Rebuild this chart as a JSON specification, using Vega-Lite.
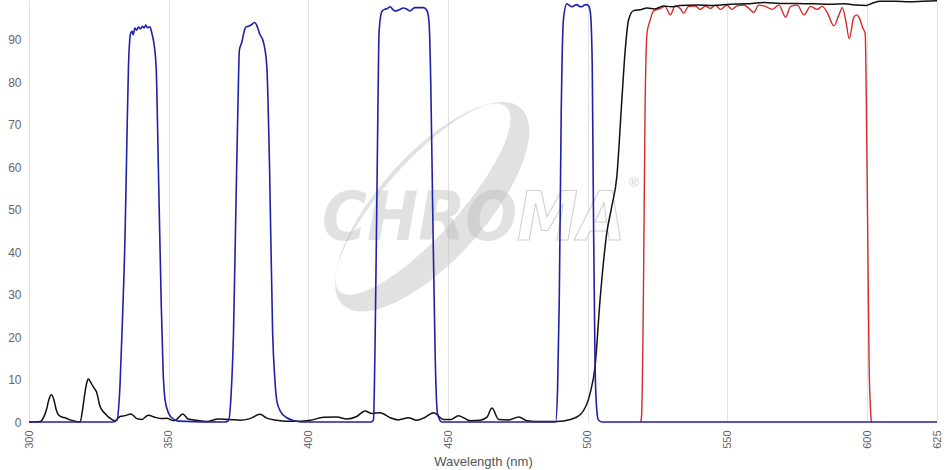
{
  "$schema": "https://vega.github.io/schema/vega-lite/v6.json",
  "width": 908,
  "height": 422,
  "autosize": {"type": "none"},
  "padding": {"left": 29, "top": 0, "right": 14, "bottom": 48},
  "background": "white",
  "config": {"view": {"stroke": null}},
  "datasets": {
    "blue": [
      {"wl":300,"t":0},{"wl":330,"t":0},{"wl":331.5,"t":0.5},{"wl":332.6,"t":9},{"wl":333.5,"t":25},{"wl":334.4,"t":44.5},{"wl":335,"t":65},{"wl":335.6,"t":83.7},{"wl":336.4,"t":91.6},{"wl":336.9,"t":92},{"wl":337.3,"t":91.2},{"wl":337.9,"t":92.8},{"wl":338.5,"t":92.3},{"wl":339.2,"t":93},{"wl":339.9,"t":92.6},{"wl":340.6,"t":93.2},{"wl":341.2,"t":92.8},{"wl":341.8,"t":93.5},{"wl":342.4,"t":92.9},{"wl":343.3,"t":93.1},{"wl":344,"t":91.5},{"wl":344.5,"t":90},{"wl":345.5,"t":83.7},{"wl":346.3,"t":60},{"wl":347.3,"t":28.8},{"wl":348,"t":12},{"wl":348.7,"t":5.2},{"wl":350,"t":2},{"wl":351.1,"t":1},{"wl":353.5,"t":0.2},
      {"wl":370,"t":0},{"wl":371.4,"t":0.3},{"wl":372.3,"t":6},{"wl":373.2,"t":21},{"wl":374.1,"t":52},{"wl":374.8,"t":75},{"wl":375.3,"t":87.6},{"wl":376.2,"t":89.5},{"wl":377,"t":92},{"wl":377.6,"t":93},{"wl":378.5,"t":93.2},{"wl":379.5,"t":93.5},{"wl":380.7,"t":94.1},{"wl":381.5,"t":93.5},{"wl":382.5,"t":91.5},{"wl":383.9,"t":89.5},{"wl":385.1,"t":84},{"wl":386.1,"t":60},{"wl":387.2,"t":21},{"wl":388,"t":10},{"wl":388.7,"t":5},{"wl":390,"t":2.5},{"wl":392.3,"t":1},{"wl":395,"t":0.3},{"wl":398,"t":0},
      {"wl":422.5,"t":0},{"wl":423.3,"t":0.5},{"wl":423.9,"t":20},{"wl":424.5,"t":52},{"wl":425,"t":80},{"wl":425.3,"t":92},{"wl":426.3,"t":96.7},{"wl":427.3,"t":97.2},{"wl":428.3,"t":97.4},{"wl":429.3,"t":97.8},{"wl":430.2,"t":97.2},{"wl":431,"t":96.8},{"wl":432.5,"t":97.1},{"wl":434,"t":97.5},{"wl":435.3,"t":97.2},{"wl":436.4,"t":96.8},{"wl":437.3,"t":97.3},{"wl":438.2,"t":97.6},{"wl":439.5,"t":97.6},{"wl":441.2,"t":97.6},{"wl":442.4,"t":97},{"wl":443.2,"t":94},{"wl":443.8,"t":80},{"wl":444.5,"t":50},{"wl":445.4,"t":15},{"wl":446.2,"t":2},{"wl":447.8,"t":0},
      {"wl":488.5,"t":0},{"wl":489.2,"t":8},{"wl":489.8,"t":28.8},{"wl":490.5,"t":73},{"wl":491.3,"t":94.8},{"wl":492.5,"t":98.5},{"wl":493.3,"t":98.2},{"wl":494.3,"t":97.8},{"wl":495.2,"t":98.1},{"wl":496.1,"t":98.3},{"wl":497,"t":97.9},{"wl":497.9,"t":97.8},{"wl":498.8,"t":98.2},{"wl":499.7,"t":98.3},{"wl":500.5,"t":97.8},{"wl":501,"t":96},{"wl":501.6,"t":84},{"wl":502,"t":52},{"wl":502.6,"t":13.7},{"wl":503.2,"t":3},{"wl":503.8,"t":0.5},{"wl":505,"t":0},{"wl":625,"t":0}
    ],
    "black": [
      {"wl":300,"t":0},{"wl":304,"t":0.1},{"wl":305.5,"t":1.5},{"wl":306.3,"t":3},{"wl":307.2,"t":5.5},{"wl":308.1,"t":6.4},{"wl":309,"t":5},{"wl":309.7,"t":3},{"wl":310.5,"t":1.7},{"wl":312,"t":1.1},{"wl":312.9,"t":1.0},{"wl":314.7,"t":0.5},{"wl":316.5,"t":0.2},{"wl":318.3,"t":0},{"wl":319.2,"t":3},{"wl":320,"t":6.8},{"wl":320.6,"t":9},{"wl":321.2,"t":10.1},{"wl":322.4,"t":9},{"wl":323.3,"t":8},{"wl":324.2,"t":7},{"wl":325.4,"t":3.7},{"wl":327.2,"t":2},{"wl":329.6,"t":0.6},{"wl":330.8,"t":0.3},{"wl":332.6,"t":1.3},{"wl":334.4,"t":1.5},{"wl":336.5,"t":1.9},{"wl":338.6,"t":0.8},{"wl":340.4,"t":0.6},{"wl":342.7,"t":1.6},{"wl":345.1,"t":1.1},{"wl":347.5,"t":0.8},{"wl":349.3,"t":0.9},{"wl":351.7,"t":0.3},{"wl":352.9,"t":0.6},{"wl":355,"t":1.9},{"wl":357,"t":0.7},{"wl":360,"t":0.4},{"wl":363.6,"t":0.1},{"wl":367.8,"t":0.7},{"wl":372,"t":0.6},{"wl":375.5,"t":0.4},{"wl":379.1,"t":0.8},{"wl":382.7,"t":1.8},{"wl":385.1,"t":0.9},{"wl":388.7,"t":0.4},{"wl":392.3,"t":0.2},{"wl":397,"t":0.2},{"wl":400.6,"t":0.4},{"wl":405.4,"t":1.1},{"wl":410.2,"t":1.2},{"wl":413.7,"t":0.7},{"wl":417.3,"t":1.3},{"wl":420.3,"t":2.6},{"wl":422.7,"t":2.0},{"wl":425.7,"t":2.2},{"wl":429.3,"t":1.0},{"wl":432.2,"t":0.5},{"wl":435.8,"t":1.0},{"wl":438.8,"t":0.4},{"wl":441.5,"t":1.0},{"wl":444.8,"t":2.2},{"wl":448.4,"t":0.6},{"wl":451,"t":0.6},{"wl":453.7,"t":1.5},{"wl":457.9,"t":0.3},{"wl":461.5,"t":0.4},{"wl":464,"t":1.2},{"wl":465.7,"t":3.3},{"wl":468.1,"t":0.6},{"wl":471.7,"t":0.5},{"wl":475.3,"t":1.2},{"wl":478.3,"t":0.3},{"wl":483,"t":0.1},{"wl":489,"t":0.1},{"wl":493.8,"t":0.6},{"wl":497.3,"t":1.7},{"wl":500.9,"t":6.9},{"wl":502.6,"t":13},{"wl":504.4,"t":28.8},{"wl":506.8,"t":44.5},{"wl":508.6,"t":50.8},{"wl":510.4,"t":57.8},{"wl":512.2,"t":75.9},{"wl":513.4,"t":87.6},{"wl":514.6,"t":94.7},{"wl":516.4,"t":96.9},{"wl":518.8,"t":97.1},{"wl":521.2,"t":97.5},{"wl":524,"t":97.3},{"wl":527.1,"t":98},{"wl":530,"t":97.8},{"wl":533,"t":98.1},{"wl":539.1,"t":98.2},{"wl":545,"t":98.1},{"wl":551,"t":98.4},{"wl":557,"t":98.5},{"wl":563,"t":98.8},{"wl":569,"t":98.6},{"wl":575,"t":98.6},{"wl":581,"t":98.5},{"wl":586.9,"t":98.4},{"wl":592,"t":98.5},{"wl":596,"t":98.2},{"wl":599.6,"t":98.1},{"wl":602,"t":98.7},{"wl":604.8,"t":99.1},{"wl":610,"t":99.1},{"wl":615,"t":99},{"wl":620,"t":99.1},{"wl":625,"t":99.2}
    ],
    "red": [
      {"wl":519,"t":0},{"wl":519.3,"t":2},{"wl":519.9,"t":28.8},{"wl":520.5,"t":73},{"wl":521.2,"t":91.5},{"wl":522.3,"t":94.6},{"wl":523.5,"t":96.8},{"wl":525.9,"t":97.4},{"wl":527.7,"t":97.9},{"wl":529.5,"t":95.9},{"wl":531.3,"t":98},{"wl":533.1,"t":97.4},{"wl":534.3,"t":96.3},{"wl":536.1,"t":97.9},{"wl":538.5,"t":98},{"wl":540.3,"t":97.2},{"wl":542.1,"t":98},{"wl":543.9,"t":97.4},{"wl":545.7,"t":98.2},{"wl":547.5,"t":97.2},{"wl":549.8,"t":98.2},{"wl":551.6,"t":97.2},{"wl":553.4,"t":98},{"wl":555.8,"t":98.2},{"wl":557.6,"t":97.5},{"wl":559.4,"t":96.5},{"wl":561.2,"t":98.2},{"wl":563.6,"t":97.9},{"wl":566,"t":97.2},{"wl":568.4,"t":98.2},{"wl":570.8,"t":95.4},{"wl":572.6,"t":97.9},{"wl":575,"t":98.2},{"wl":577.4,"t":95.9},{"wl":579.7,"t":97.9},{"wl":582.1,"t":97.2},{"wl":583.9,"t":97.9},{"wl":585.7,"t":96.5},{"wl":588.1,"t":93.3},{"wl":589.9,"t":95.9},{"wl":591.1,"t":97.6},{"wl":592.3,"t":94.7},{"wl":593.6,"t":90.3},{"wl":595.2,"t":95.3},{"wl":596.2,"t":95.9},{"wl":597.3,"t":95},{"wl":598.5,"t":92.7},{"wl":599.3,"t":91.5},{"wl":599.7,"t":75.9},{"wl":600.2,"t":44.5},{"wl":600.7,"t":13.7},{"wl":601.2,"t":3},{"wl":601.5,"t":0}
    ],
    "mark": [{"name": "Chroma"}]
  },
  "layer": [
    {
      "data": {"name": "mark"},
      "mark": {"type": "point", "filled": true, "color": "#bdbdbd", "opacity": 0.45, "size": 63500,
        "shape": "M0.675,-0.804 A1.05,0.42,-48,1,1,-0.675,0.804 A1.05,0.42,-48,1,1,0.675,-0.804 Z M0.557,-0.812 A0.98,0.29,-48,1,0,-0.703,0.690 A0.98,0.29,-48,1,0,0.557,-0.812 Z"},
      "encoding": {
        "x": {"datum": 444.3, "type": "quantitative", "scale": {"domain": [300, 625], "nice": false, "zero": false},
          "axis": {"values": [300,350,400,450,500,550,600,625], "labelAngle": -90, "labelAlign": "right", "labelBaseline": "middle", "labelPadding": 8, "labelColor": "#666", "labelFontSize": 11, "labelFont": "Liberation Sans", "labelOverlap": false, "labelFlush": false, "domain": false, "ticks": false, "grid": true, "gridColor": "#e2e2e2", "title": "Wavelength (nm)", "titleColor": "#555", "titleFontSize": 13, "titleFontWeight": "normal", "titleFont": "Liberation Sans", "titlePadding": 7}},
        "y": {"datum": 50.7, "type": "quantitative", "scale": {"domain": [0, 99.4], "nice": false},
          "axis": {"values": [0,10,20,30,40,50,60,70,80,90], "domain": false, "ticks": false, "labelPadding": 8, "labelColor": "#666", "labelFontSize": 12, "labelFont": "Liberation Sans", "gridColor": "#e2e2e2", "title": null}}
      }
    },
    {
      "data": {"name": "mark"},
      "mark": {"type": "text", "text": "CHRO", "font": "DejaVu Sans Condensed, Liberation Sans, sans-serif", "fontStyle": "italic", "fontWeight": "bold", "fontSize": 68, "align": "left", "baseline": "alphabetic", "fill": "#bdbdbd", "fillOpacity": 0.45},
      "encoding": {
        "x": {"datum": 404.9, "type": "quantitative"},
        "y": {"datum": 42.9, "type": "quantitative"}
      }
    },
    {
      "data": {"name": "mark"},
      "mark": {"type": "text", "text": "MA", "font": "DejaVu Sans Condensed, Liberation Sans, sans-serif", "fontStyle": "italic", "fontWeight": "bold", "fontSize": 68, "align": "left", "baseline": "alphabetic", "fill": "white", "fillOpacity": 0.6, "stroke": "#cfcfcf", "strokeWidth": 1},
      "encoding": {
        "x": {"datum": 474.7, "type": "quantitative"},
        "y": {"datum": 42.9, "type": "quantitative"}
      }
    },
    {
      "data": {"name": "mark"},
      "mark": {"type": "text", "text": "®", "font": "Liberation Sans", "fontSize": 13, "align": "center", "baseline": "middle", "fill": "#d0d0d0"},
      "encoding": {
        "x": {"datum": 516.5, "type": "quantitative"},
        "y": {"datum": 56.3, "type": "quantitative"}
      }
    },
    {
      "data": {"name": "red"},
      "mark": {"type": "line", "color": "#d42a2a", "strokeWidth": 1.4, "interpolate": "monotone"},
      "encoding": {
        "x": {"field": "wl", "type": "quantitative"},
        "y": {"field": "t", "type": "quantitative"}
      }
    },
    {
      "data": {"name": "black"},
      "mark": {"type": "line", "color": "#111111", "strokeWidth": 1.5, "interpolate": "monotone"},
      "encoding": {
        "x": {"field": "wl", "type": "quantitative"},
        "y": {"field": "t", "type": "quantitative"}
      }
    },
    {
      "data": {"name": "blue"},
      "mark": {"type": "line", "color": "#2020a8", "strokeWidth": 1.6, "interpolate": "monotone"},
      "encoding": {
        "x": {"field": "wl", "type": "quantitative"},
        "y": {"field": "t", "type": "quantitative"}
      }
    }
  ]
}
